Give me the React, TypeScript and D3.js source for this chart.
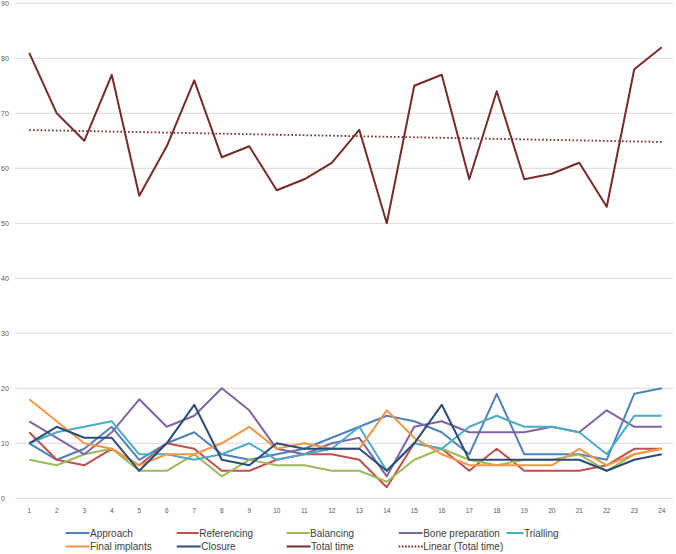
import React from "react";
import * as d3 from "d3";

const categories = Array.from({ length: 24 }, (_, i) => String(i + 1));

const approach = [10, 7, 9, 13, 7, 10, 12, 8, 7, 8, 9, 11, 13, 15, 14, 12, 8, 19, 8, 8, 8, 7, 19, 20];
const referencing = [12, 7, 6, 9, 6, 10, 9, 5, 5, 7, 8, 8, 7, 2, 10, 9, 5, 9, 5, 5, 5, 6, 9, 9];
const balancing = [7, 6, 8, 9, 5, 5, 8, 4, 7, 6, 6, 5, 5, 3, 7, 9, 7, 6, 7, 7, 8, 5, 8, 9];
const bonePreparation = [14, 11, 8, 12, 18, 13, 15, 20, 16, 9, 8, 10, 11, 4, 13, 14, 12, 12, 12, 13, 12, 16, 13, 13];
const trialling = [10, 12, 13, 14, 8, 8, 7, 8, 10, 7, 8, 9, 13, 5, 10, 9, 13, 15, 13, 13, 12, 8, 15, 15];
const finalImplants = [18, 14, 10, 9, 6, 8, 8, 10, 13, 9, 10, 9, 9, 16, 11, 8, 6, 6, 6, 6, 9, 6, 8, 9];
const closure = [10, 13, 11, 11, 5, 10, 17, 7, 6, 10, 9, 9, 9, 5, 10, 17, 7, 7, 7, 7, 7, 5, 7, 8];
const totalTime = [81, 70, 65, 77, 55, 64, 76, 62, 64, 56, 58, 61, 67, 50, 75, 77, 58, 74, 58, 59, 61, 53, 78, 82];

const yTicks = [0, 10, 20, 30, 40, 50, 60, 70, 80, 90];

const seriesNames = ["Approach", "Referencing", "Balancing", "Bone preparation", "Trialling", "Final implants", "Closure", "Total time"];
const seriesColors = ["#4F81BD", "#C0504D", "#9BBB59", "#8064A2", "#4BACC6", "#F79646", "#2C4D75", "#772C2A"];
const seriesData = [approach, referencing, balancing, bonePreparation, trialling, finalImplants, closure, totalTime];
const trendName = "Linear (Total time)";

export default function App() {
  const W = 676;
  const H = 554;
  const x = d3.scaleBand<string>().domain(categories).range([15.5, 675.5]).padding(0);
  const y = d3.scaleLinear().domain([0, 90]).range([498.3, 3.3]);
  const cx = (i: number) => (x(categories[i]) as number) + x.bandwidth() / 2;

  const line = d3
    .line<number>()
    .x((_, i) => cx(i))
    .y((d) => y(d));

  // linear regression for trend
  const xs = totalTime.map((_, i) => i + 1);
  const mx = d3.mean(xs) as number;
  const my = d3.mean(totalTime) as number;
  let sxy = 0;
  let sxx = 0;
  xs.forEach((xv, i) => {
    sxy += (xv - mx) * (totalTime[i] - my);
    sxx += (xv - mx) * (xv - mx);
  });
  const slope = sxy / sxx;
  const intercept = my - slope * mx;
  const trend = xs.map((xv) => intercept + slope * xv);

  const legendRows = [
    { y: 533, items: [0, 1, 2, 3, 4] },
    { y: 546.5, items: [5, 6, 7, 8] },
  ];
  const legendX = [65.5, 176.7, 286.6, 398.7, 506.5];
  const legendLineLen = [24, 22, 23, 24, 17];

  return (
    <svg
      width={W}
      height={H}
      style={{ position: "absolute", left: 0, top: 0, background: "#fff" }}
      fontFamily="'Liberation Sans', Arial, sans-serif"
    >
      <rect x={0} y={0} width={W} height={H} fill="#fff" />
      {yTicks.map((t) => (
        <g key={t}>
          <line x1={15} x2={673} y1={y(t)} y2={y(t)} stroke="#D9D9D9" strokeWidth={1} />
          <text x={1} y={y(t)} dy="0.35em" fontSize={7} fill="#595959">
            {t}
          </text>
        </g>
      ))}
      {categories.map((c, i) => (
        <text key={c} x={cx(i)} y={511} textAnchor="middle" dy="0.35em" fontSize={6.5} fill="#595959">
          {c}
        </text>
      ))}
      {seriesData.map((d, si) => (
        <path
          key={seriesNames[si]}
          d={line(d) as string}
          fill="none"
          stroke={seriesColors[si]}
          strokeWidth={2}
          strokeLinejoin="round"
        />
      ))}
      <path
        d={line(trend) as string}
        fill="none"
        stroke="#772C2A"
        strokeWidth={1.8}
        strokeDasharray="1.6 2.2"
      />
      {legendRows.map((row, ri) =>
        row.items.map((si, k) => {
          const lx = legendX[k];
          const len = ri === 0 ? legendLineLen[k] : 24;
          const isTrend = si === 8;
          const name = isTrend ? trendName : seriesNames[si];
          const color = isTrend ? "#772C2A" : seriesColors[si];
          return (
            <g key={name}>
              <line
                x1={lx}
                x2={lx + len}
                y1={row.y}
                y2={row.y}
                stroke={color}
                strokeWidth={2}
                strokeDasharray={isTrend ? "1.6 1.6" : undefined}
              />
              <text
                x={lx + len + 0.5}
                y={row.y}
                dy="0.35em"
                fontSize={10}
                fill="#404040"
              >
                {name}
              </text>
            </g>
          );
        })
      )}
    </svg>
  );
}
